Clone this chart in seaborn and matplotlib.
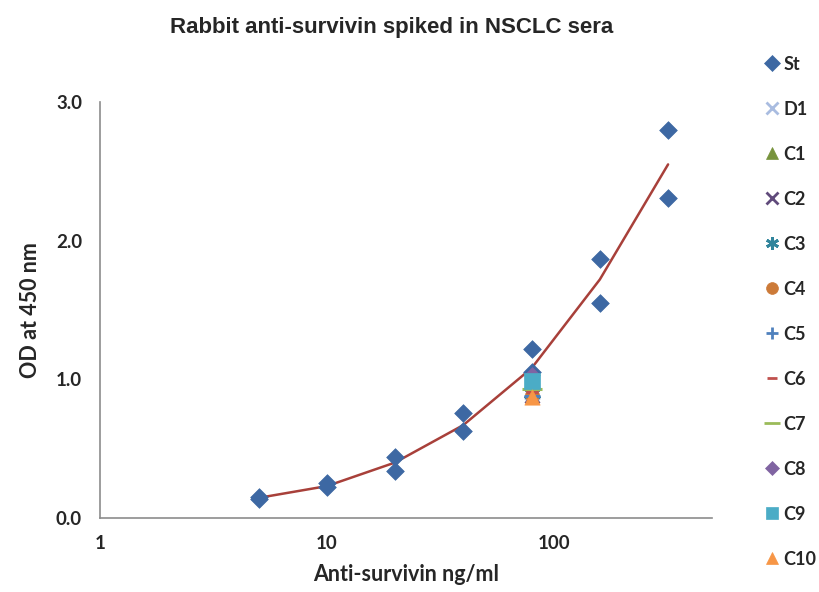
import matplotlib
matplotlib.use("Agg")
import matplotlib.pyplot as plt
from matplotlib.ticker import LogLocator, FixedLocator, NullFormatter
import seaborn as sns
import pandas as pd

# Standard curve: two-fold dilutions, duplicate wells
std_conc = [5, 5, 10, 10, 20, 20, 40, 40, 80, 80, 160, 160, 320, 320]
std_od = [0.15, 0.14, 0.25, 0.22, 0.44, 0.34, 0.76, 0.63, 1.22, 1.05, 1.87, 1.55, 2.80, 2.31]

# Fitted curve through the standard points
fit_conc = [5, 10, 20, 40, 80, 160, 320]
fit_od = [0.145, 0.23, 0.40, 0.67, 1.08, 1.72, 2.55]

# Spiked sera samples, all at 80 ng/ml
sample_names = ["D1", "C1", "C2", "C3", "C4", "C5", "C6", "C7", "C8", "C9", "C10"]
sample_conc = [80, 80, 80, 80, 80, 80, 80, 80, 80, 80, 80]
sample_od = [0.90, 0.92, 0.88, 0.90, 0.89, 0.88, 0.91, 0.93, 1.03, 0.99, 0.87]

x_ticks = [1, 10, 100]
x_tick_labels = ["1", "10", "100"]
y_ticks = [0.0, 1.0, 2.0, 3.0]
y_tick_labels = ["0.0", "1.0", "2.0", "3.0"]

styles = {
    "St":  dict(marker="D", color="#3D68A3", ms=9),
    "D1":  dict(marker="x", color="#A9BCE0", ms=10),
    "C1":  dict(marker="^", color="#77933C", ms=10),
    "C2":  dict(marker="x", color="#604A7B", ms=10),
    "C3":  dict(marker=(6, 2, 0), color="#31859C", ms=11),
    "C4":  dict(marker="o", color="#CC7A38", ms=10),
    "C5":  dict(marker="+", color="#4F81BD", ms=11),
    "C6":  dict(marker="_", color="#C0504D", ms=8),
    "C7":  dict(marker="_", color="#9BBB59", ms=14),
    "C8":  dict(marker="D", color="#8064A2", ms=8),
    "C9":  dict(marker="s", color="#4BACC6", ms=11),
    "C10": dict(marker="^", color="#F79646", ms=11),
}
thin_markers = ("x", "+", "_", (6, 2, 0))

sns.set_style("white")
plt.rcParams["font.family"] = ["Lato", "DejaVu Sans"]

fig = plt.figure(figsize=(8.19, 5.92), dpi=100)
ax = fig.add_axes([0.1221, 0.125, 0.7473, 0.7027])

fit_df = pd.DataFrame({"conc": fit_conc, "od": fit_od})
sns.lineplot(data=fit_df, x="conc", y="od", ax=ax, color="#A8403A", lw=1.8, zorder=2)

std_df = pd.DataFrame({"conc": std_conc, "od": std_od})
st = styles["St"]
sns.scatterplot(data=std_df, x="conc", y="od", ax=ax, marker=st["marker"], color=st["color"],
                s=st["ms"] ** 2, edgecolor=st["color"], linewidth=0.5, zorder=3)

for name, c, v in zip(sample_names, sample_conc, sample_od):
    stl = styles[name]
    lw = 2.2 if stl["marker"] in thin_markers else 0.5
    sns.scatterplot(x=[c], y=[v], ax=ax, marker=stl["marker"], color=stl["color"],
                    s=stl["ms"] ** 2, edgecolor=stl["color"], linewidth=lw, zorder=4)

ax.set_xscale("log")
ax.set_xlim(1, 500)
ax.set_ylim(0, 3.0)
ax.xaxis.set_major_locator(FixedLocator(x_ticks))
ax.set_xticklabels(x_tick_labels)
ax.xaxis.set_minor_locator(LogLocator(base=10, subs=range(2, 10)))
ax.xaxis.set_minor_formatter(NullFormatter())
ax.set_yticks(y_ticks)
ax.set_yticklabels(y_tick_labels)

for side in ("top", "right"):
    ax.spines[side].set_visible(False)
for side in ("left", "bottom"):
    ax.spines[side].set_color("#8C8C8C")
    ax.spines[side].set_linewidth(1.2)

ax.tick_params(axis="both", which="both", direction="out", color="#8C8C8C", width=1.2)
ax.tick_params(axis="y", which="major", length=4, labelsize=13.5, pad=9)
ax.tick_params(axis="x", which="major", length=5, labelsize=13.5, pad=7)
ax.tick_params(axis="x", which="minor", length=4)
for lab in ax.get_xticklabels() + ax.get_yticklabels():
    lab.set_fontweight("bold")

ax.set_xlabel("Anti-survivin ng/ml", fontsize=15.5, fontweight="bold", labelpad=9)
ax.set_ylabel("OD at 450 nm", fontsize=15.5, fontweight="bold", labelpad=11)
fig.suptitle("Rabbit anti-survivin spiked in NSCLC sera", fontsize=16, fontweight="bold",
             family=["Liberation Sans", "DejaVu Sans"], x=0.478, y=0.972)

handles = []
labels = ["St"] + sample_names
for name in labels:
    stl = styles[name]
    lw = 2.0 if stl["marker"] in thin_markers else 0.5
    h = plt.Line2D([], [], ls="none", marker=stl["marker"], color=stl["color"],
                   markersize=stl["ms"] * 0.85, markeredgewidth=lw, markeredgecolor=stl["color"])
    handles.append(h)

leg = fig.legend(handles, labels, loc="upper left", bbox_to_anchor=(0.926, 0.918),
                 frameon=False, handlelength=0.7, handletextpad=0.3,
                 labelspacing=1.55, borderaxespad=0,
                 prop={"weight": "bold", "size": 13})

fig.savefig("out.png", dpi=100)
